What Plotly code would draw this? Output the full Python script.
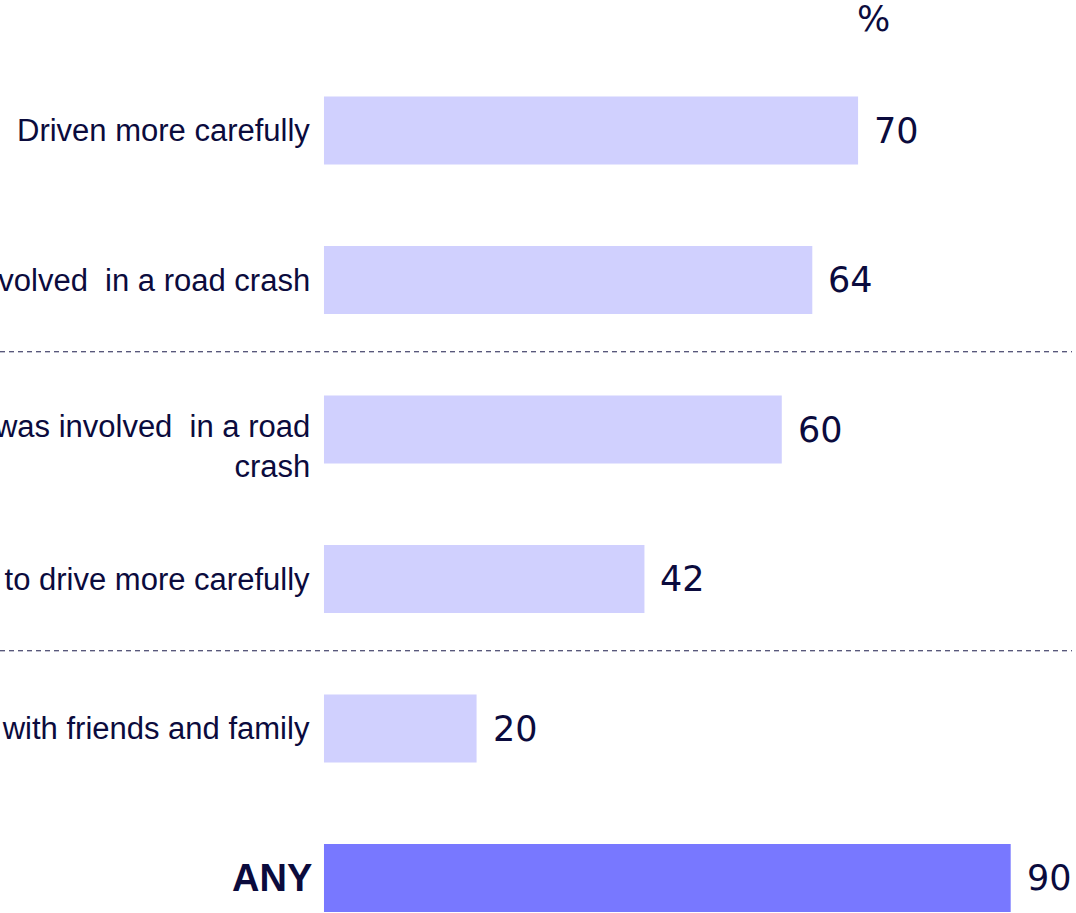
import plotly.graph_objects as go

# Survey responses (% of respondents), top to bottom
categories = [
    "Driven more carefully",
    "Thought about what it would be like to be involved  in a road crash",
    "Thought about what it would be like if someone close to you was involved  in a road<br>crash",
    "Encouraged others to drive more carefully",
    "Talked about the ads with friends and family",
    "ANY",
]
values = [70, 64, 60, 42, 20, 90]
bar_colors = ["#d0d0fe", "#d0d0fe", "#d0d0fe", "#d0d0fe", "#d0d0fe", "#7878ff"]
separators_after = [1, 3]  # dashed rule drawn below these rows

TEXT = "#0b0b3d"

fig = go.Figure(
    go.Bar(
        x=values,
        y=list(range(len(categories))),
        orientation="h",
        marker=dict(color=bar_colors, line=dict(width=0)),
        width=0.455,
        hoverinfo="skip",
    )
)

annotations = []
for i, (cat, val) in enumerate(zip(categories, values)):
    is_any = cat == "ANY"
    annotations.append(
        dict(
            x=0, y=i, xref="x", yref="y",
            text=f"<b>{cat}</b>" if is_any else cat,
            xanchor="right", yanchor="middle", align="right",
            xshift=-10 if is_any else -12,
            yshift=-17 if "<br>" in cat else 0,
            showarrow=False,
            font=dict(family="Liberation Sans, Arial", size=38 if is_any else 31, color=TEXT),
        )
    )
    annotations.append(
        dict(
            x=val, y=i, xref="x", yref="y",
            text=str(val),
            xanchor="left", yanchor="middle",
            xshift=14,
            showarrow=False,
            font=dict(family="DejaVu Sans", size=35, color=TEXT),
        )
    )

# percent sign above the value column
annotations.append(
    dict(
        x=873 / 1076, y=1 - 19 / 913, xref="paper", yref="paper", text="%",
        showarrow=False, xanchor="center", yanchor="middle",
        font=dict(family="DejaVu Sans", size=35, color=TEXT),
    )
)

shapes = [
    dict(
        type="line", xref="paper", yref="y",
        x0=0, x1=1072 / 1076, y0=r + 0.48, y1=r + 0.48,
        line=dict(color="#1c1c4c", width=1, dash="5px,4px"),
    )
    for r in separators_after
]

fig.update_layout(
    width=1076, height=913,
    margin=dict(l=0, r=0, t=0, b=0),
    paper_bgcolor="white", plot_bgcolor="white",
    showlegend=False,
    xaxis=dict(range=[-42.46, 98.56], visible=False, fixedrange=True),
    yaxis=dict(range=[5.234, -0.873], visible=False, fixedrange=True),
    annotations=annotations,
    shapes=shapes,
)

fig.write_html("out.html", config={"displayModeBar": False})
